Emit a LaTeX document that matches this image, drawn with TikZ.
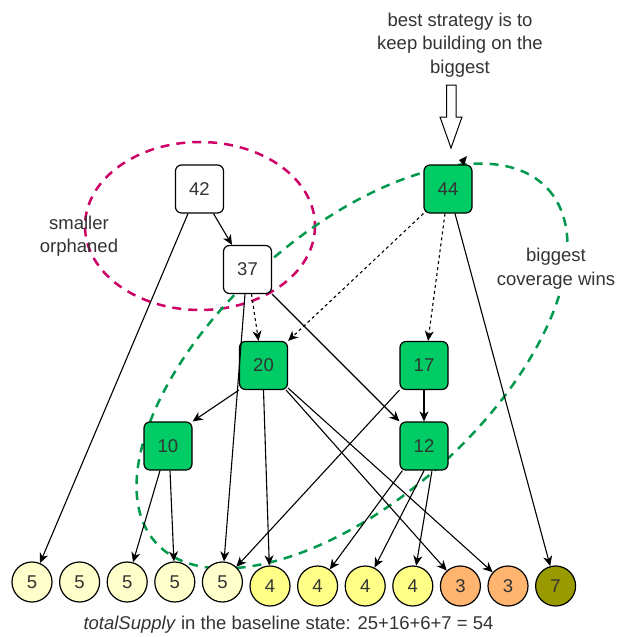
\documentclass[tikz,border=0pt]{standalone}
\usepackage{fontspec}
\setmainfont{Liberation Sans}
\usetikzlibrary{arrows.meta}
\definecolor{boxgreen}{HTML}{00CC66}
\definecolor{ringgreen}{HTML}{00994D}
\definecolor{ringpink}{HTML}{CC0066}
\definecolor{coinpale}{HTML}{FFFFCC}
\definecolor{coinyellow}{HTML}{FFFF88}
\definecolor{coinorange}{HTML}{FFB570}
\definecolor{coinolive}{HTML}{999900}
\definecolor{inkgray}{HTML}{333333}
\newcommand{\lbl}{\fontsize{18.5}{23.5}\selectfont}

\begin{document}
\begin{tikzpicture}[x=1pt,y=-1pt,
    sq/.style={draw, rounded corners=6pt, minimum width=48pt, minimum height=48pt, line width=1.2pt, font=\lbl, text=inkgray},
    coin/.style={circle, draw, minimum size=40pt, inner sep=0pt, line width=1.2pt, font=\lbl, text=inkgray},
    link/.style={-{Stealth[length=10pt,width=9pt,inset=3pt]}, line width=1.1pt},
    dotl/.style={link, dash pattern=on 3pt off 3pt},
    ring/.style={line width=2.5pt, dash pattern=on 9pt off 7pt},
    txt/.style={align=center, font=\lbl, text=inkgray}]
    \useasboundingbox (0,0) rectangle (619,637);
    \draw[ring, ringpink] (200,226) ellipse [x radius=115, y radius=84];
    \draw[ring, ringgreen, rotate around={42:(352,366)}] (352,366) ellipse [x radius=264, y radius=133];
    \fill (467,156) -- (459,160) -- (464,166) -- cycle;
    \draw[line width=1pt, fill=white] (446.5,85) -- (456,85) -- (456,117) -- (462,117) -- (451,148) -- (440,117) -- (446.5,117) -- cycle;

    \node[txt] (best) at (460,45) {best strategy is to\\keep building on the\\biggest};
    \node[txt] (orph) at (79,236) {smaller\\orphaned};
    \node[txt, fill=white, inner sep=1pt] (wins) at (556,268.5) {biggest\\coverage wins};
    \node[txt] (sum) at (288.5,625) {\textit{totalSupply} in the baseline state: 25+16+6+7 = 54};

    \node[sq, fill=white] (n42) at (199.5,189) {42};
    \node[sq, fill=white] (n37) at (247.5,269.5) {37};
    \node[sq, fill=boxgreen] (n44) at (448,189) {44};
    \node[sq, fill=boxgreen] (n20) at (263.5,365.5) {20};
    \node[sq, fill=boxgreen] (n17) at (424,365.5) {17};
    \node[sq, fill=boxgreen] (n10) at (168,446) {10};
    \node[sq, fill=boxgreen] (n12) at (424,446) {12};

    \foreach \v/\c/\y [count=\i from 0] in {5/coinpale/582, 5/coinpale/582, 5/coinpale/582, 5/coinpale/582, 5/coinpale/582,
        4/coinyellow/586, 4/coinyellow/586, 4/coinyellow/586, 4/coinyellow/586,
        3/coinorange/586, 3/coinorange/586, 7/coinolive/586}
        \node[coin, fill=\c] (c\i) at ({32+47.6*\i},\y) {\v};

    \draw[link] ([xshift=-11.5pt]n42.south) -- (c0);
    \draw[link] ([xshift=14pt]n42.south) -- ([xshift=-15.5pt]n37.north);
    \draw[dotl] ([xshift=4pt]n37.south) -- ([xshift=-5pt]n20.north);
    \draw[link] ([xshift=-2.5pt]n37.south) -- (c4);
    \draw[link] (n37.south east) -- (n12.north west);
    \draw[dotl] (n44.south west) -- (n20.north east);
    \draw[dotl] ([xshift=-3pt]n44.south) -- ([xshift=4pt]n17.north);
    \draw[link] ([xshift=7pt]n44.south) -- (c11);
    \draw[link] (n20.south west) -- (n10.north east);
    \draw[link] (n20.south) -- (c5);
    \draw[link] ([xshift=-2pt]n20.south east) -- (c9);
    \draw[link] ([yshift=2pt]n20.south east) -- (c10);
    \draw[link] (n17) -- (n12);
    \draw[link] (n17.south west) -- (c4);
    \draw[link] ([xshift=3pt]n12.south west) -- (c6);
    \draw[link] (n12.south) -- (c7);
    \draw[link] ([xshift=8pt]n12.south) -- (c8);
    \draw[link] ([xshift=-8pt]n10.south) -- (c2);
    \draw[link] ([xshift=2pt]n10.south) -- (c3);
\end{tikzpicture}
\end{document}
